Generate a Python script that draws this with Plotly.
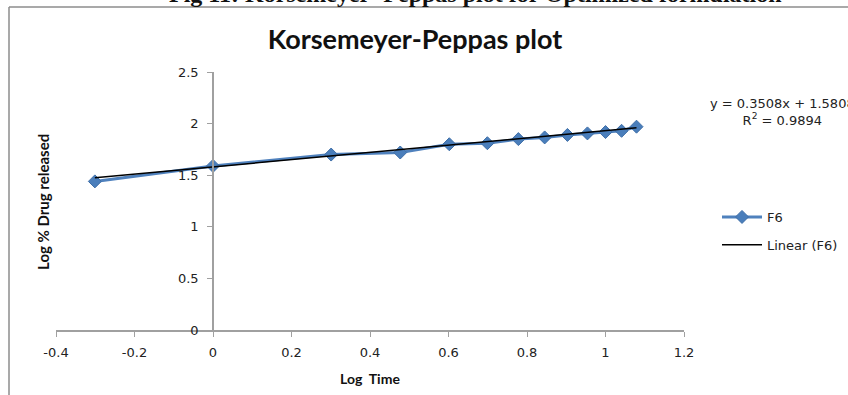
import plotly.graph_objects as go

# Log time vs log % drug released for formulation F6
log_time = [-0.301, 0.0, 0.301, 0.477, 0.602, 0.699, 0.778, 0.845, 0.903, 0.954, 1.0, 1.041, 1.079]
log_released = [1.44, 1.59, 1.70, 1.72, 1.80, 1.81, 1.85, 1.866, 1.89, 1.905, 1.918, 1.93, 1.97]

# Linear trendline parameters
slope = 0.3508
intercept = 1.5808
r_squared = 0.9894

x_ticks = [-0.4, -0.2, 0, 0.2, 0.4, 0.6, 0.8, 1, 1.2]
x_tick_text = ["-0.4", "-0.2", "0", "0.2", "0.4", "0.6", "0.8", "1", "1.2"]
y_ticks = [0, 0.5, 1, 1.5, 2, 2.5]
y_tick_text = ["0", "0.5", "1", "1.5", "2", "2.5"]

trend_x = [min(log_time), max(log_time)]
trend_y = [slope * v + intercept for v in trend_x]

W, H = 848, 395
L, R, T, B = 56, 164, 72, 65
pw, ph = W - L - R, H - T - B


def px_x(p):
    return (p - L) / pw


def px_y(p):
    return (H - B - p) / ph


fig = go.Figure()
fig.add_trace(go.Scatter(
    x=log_time, y=log_released, mode="lines+markers", name="F6",
    legendgroup="a",
    line=dict(color="#4F81BD", width=3),
    marker=dict(symbol="diamond", size=10, color="#4A7EBB",
                line=dict(color="#3F6FA8", width=1)),
))
fig.add_trace(go.Scatter(
    x=trend_x, y=trend_y, mode="lines", name="Linear (F6)",
    legendgroup="b",
    line=dict(color="#000000", width=1.5),
))

axis_font = dict(family="DejaVu Sans", size=13, color="#222222")
fig.update_layout(
    width=W, height=H,
    margin=dict(l=L, r=R, t=T, b=B, autoexpand=False),
    paper_bgcolor="white", plot_bgcolor="white",
    title=dict(text="<b>Korsemeyer-Peppas plot</b>",
               font=dict(family="Lato", size=27, color="#111111"),
               x=px_x(415), xref="paper", xanchor="center",
               y=1 - 40 / H, yref="container", yanchor="middle"),
    xaxis=dict(range=[-0.4, 1.2], tickvals=x_ticks, ticktext=x_tick_text,
               showgrid=False, zeroline=False, showline=True,
               linecolor="#A0A0A0", linewidth=1.5,
               ticks="outside", ticklen=5, tickcolor="#A0A0A0",
               ticklabelstandoff=5, tickfont=axis_font,
               title=dict(text="<b>Log  Time</b>",
                          font=dict(family="Lato", size=14, color="#111111"),
                          standoff=15)),
    yaxis=dict(range=[0, 2.5], tickvals=y_ticks, ticktext=y_tick_text,
               anchor="free", position=0.25,
               showgrid=False, zeroline=False, showline=True,
               linecolor="#A0A0A0", linewidth=1.5,
               ticks="outside", ticklen=5, tickcolor="#A0A0A0",
               ticklabelstandoff=6, tickfont=axis_font),
    legend=dict(x=717 / W, y=1 - 202 / H, xref="container", yref="container",
                xanchor="left", yanchor="top",
                font=dict(family="DejaVu Sans", size=13, color="#222222"),
                itemwidth=40, tracegroupgap=8, bgcolor="rgba(0,0,0,0)"),
    showlegend=True,
)

# Y axis title
fig.add_annotation(text="<b>Log % Drug released</b>", textangle=-90,
                   xref="paper", yref="paper", x=px_x(43), y=px_y(202),
                   showarrow=False, xanchor="center", yanchor="middle",
                   font=dict(family="Lato", size=15, color="#111111"))

# Trendline equation and R²
fig.add_annotation(text=f"y = {slope:.4f}x + {intercept:.4f}<br>R<sup>2</sup> = {r_squared:.4f}",
                   xref="paper", yref="paper", x=px_x(782), y=px_y(112),
                   showarrow=False, xanchor="center", yanchor="middle", align="center",
                   font=dict(family="DejaVu Sans", size=13, color="#222222"))

# Figure caption above the chart frame
fig.add_annotation(text="<b>Fig 11: Korsemeyer- Peppas plot for Optimized formulation</b>",
                   xref="paper", yref="paper", x=px_x(475), y=px_y(-6),
                   showarrow=False, xanchor="center", yanchor="middle",
                   font=dict(family="Liberation Serif", size=24, color="#111111"))

# Chart area frame (top and left edges)
fig.add_shape(type="line", xref="paper", yref="paper",
              x0=px_x(9), x1=px_x(W + 5), y0=px_y(7), y1=px_y(7),
              line=dict(color="#8C8C8C", width=1.5))
fig.add_shape(type="line", xref="paper", yref="paper",
              x0=px_x(9), x1=px_x(9), y0=px_y(7), y1=px_y(H + 5),
              line=dict(color="#8C8C8C", width=1.5))

fig.write_html("out.html")
